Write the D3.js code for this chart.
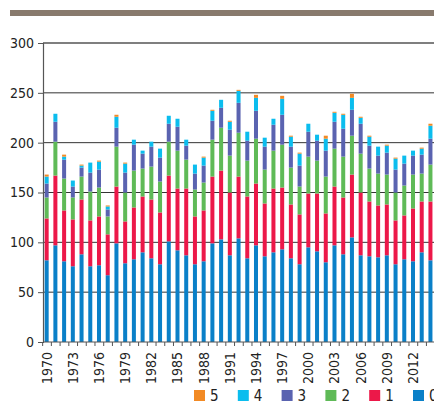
<!DOCTYPE html>
<html>
<head>
    <script src="https://d3js.org/d3.v7.min.js"></script>
    <style>
        body { margin: 0; background: #fff; }
        text { font-family: "Liberation Sans Narrow", "DejaVu Sans Condensed", sans-serif; fill: #222; }
    </style>
</head>
<body>
    <div id="chart"></div>

    <script>
        const years = [1970, 1971, 1972, 1973, 1974, 1975, 1976, 1977, 1978, 1979,
            1980, 1981, 1982, 1983, 1984, 1985, 1986, 1987, 1988, 1989,
            1990, 1991, 1992, 1993, 1994, 1995, 1996, 1997, 1998, 1999,
            2000, 2001, 2002, 2003, 2004, 2005, 2006, 2007, 2008, 2009,
            2010, 2011, 2012, 2013, 2014];
        const tickYears = [1970, 1973, 1976, 1979, 1982, 1985, 1988, 1991, 1994, 1997, 2000, 2003, 2006, 2009, 2012];
        const yTicks = [0, 50, 100, 150, 200, 250, 300];
        const keys = ["0", "1", "2", "3", "4", "5"];
        const legendOrder = ["5", "4", "3", "2", "1", "0"];

        const s0 = [82, 97, 81, 76, 88, 76, 77, 67, 99, 79, 83, 90, 84, 78, 101, 92, 87, 78, 81, 99,
            103, 87, 104, 84, 97, 86, 90, 93, 84, 78, 95, 91, 80, 97, 88, 105, 87, 86, 85, 87, 78, 83, 81, 90, 82];
        const s1 = [42, 70, 51, 47, 55, 46, 49, 41, 57, 42, 52, 56, 59, 52, 66, 62, 67, 48, 51, 67,
            69, 63, 62, 62, 62, 53, 64, 62, 54, 50, 54, 58, 49, 59, 57, 63, 63, 55, 52, 51, 44, 44, 53, 51, 59];
        const s2 = [21, 34, 32, 22, 23, 29, 29, 18, 40, 29, 37, 28, 33, 31, 34, 38, 29, 27, 28, 37,
            43, 37, 44, 36, 45, 34, 38, 43, 37, 28, 37, 33, 37, 38, 41, 39, 39, 33, 32, 30, 28, 30, 34, 28, 37];
        const s3 = [14, 20, 19, 11, 9, 19, 18, 7, 19, 20, 26, 15, 20, 24, 18, 24, 14, 16, 17, 19,
            20, 26, 30, 20, 28, 23, 26, 30, 21, 21, 25, 20, 26, 27, 28, 26, 30, 23, 18, 22, 23, 22, 19, 19, 26];
        const s4 = [7, 8, 3, 6, 2, 10, 8, 3, 11, 9, 5, 3, 5, 9, 8, 8, 6, 9, 8, 10,
            8, 8, 12, 9, 13, 9, 6, 16, 10, 12, 8, 6, 12, 9, 14, 12, 6, 9, 9, 7, 11, 8, 5, 6, 13];
        const s5 = [2, 0, 2, 0, 1, 0, 1, 1, 2, 1, 0, 0, 0, 0, 0, 0, 0, 0, 1, 1,
            0, 1, 1, 0, 3, 0, 0, 3, 1, 1, 0, 0, 3, 1, 1, 4, 1, 1, 0, 1, 1, 0, 0, 1, 2];

        const colors = {
            "0": "#0a80c8",
            "1": "#ec1849",
            "2": "#5fba57",
            "3": "#5a63b0",
            "4": "#0bbdee",
            "5": "#f28a24"
        };

        const width = 434;
        const height = 420;

        const table = years.map((yr, i) => ({
            year: yr, "0": s0[i], "1": s1[i], "2": s2[i], "3": s3[i], "4": s4[i], "5": s5[i]
        }));

        const svg = d3.select("#chart").append("svg")
            .attr("width", width)
            .attr("height", height);

        // top rule
        svg.append("rect")
            .attr("x", 10).attr("y", 10)
            .attr("width", width - 10).attr("height", 6)
            .attr("fill", "#887a6d");

        const x = d3.scaleBand()
            .domain(years)
            .range([42.3, 434.8])
            .paddingInner(0.54)
            .paddingOuter(0.27);

        const y = d3.scaleLinear()
            .domain([0, 300])
            .range([342, 43]);

        // gridlines
        svg.append("g")
            .selectAll("line")
            .data(yTicks.filter(d => d > 0))
            .enter().append("line")
            .attr("x1", 43).attr("x2", width)
            .attr("y1", d => y(d)).attr("y2", d => y(d))
            .attr("stroke", d => d === 300 ? "#7f7f7f" : "#333")
            .attr("stroke-width", d => d === 300 ? 1.8 : 1);

        // bars
        const series = d3.stack().keys(keys)(table);

        svg.append("g")
            .selectAll("g")
            .data(series)
            .enter().append("g")
            .attr("fill", d => colors[d.key])
            .selectAll("rect")
            .data(d => d)
            .enter().append("rect")
            .attr("x", d => x(d.data.year))
            .attr("y", d => y(d[1]))
            .attr("width", x.bandwidth())
            .attr("height", d => Math.max(0, y(d[0]) - y(d[1])));

        // y axis
        const yAxis = svg.append("g")
            .attr("transform", "translate(43,0)")
            .call(d3.axisLeft(y).tickValues(yTicks).tickSize(5).tickPadding(4));
        yAxis.select(".domain").attr("stroke", "#555").attr("stroke-width", 1.2);
        yAxis.selectAll(".tick line").attr("stroke", "#555");
        yAxis.selectAll("text").style("font-size", "14px").attr("fill", "#222");

        // x axis: ticks on band edges
        svg.append("line")
            .attr("x1", 43).attr("x2", width)
            .attr("y1", y(0)).attr("y2", y(0))
            .attr("stroke", "#555");

        svg.append("g")
            .selectAll("line")
            .data(years)
            .enter().append("line")
            .attr("x1", d => x(d) - x.step() * 0.23)
            .attr("x2", d => x(d) - x.step() * 0.23)
            .attr("y1", y(0)).attr("y2", y(0) + 4)
            .attr("stroke", "#555");

        svg.append("g")
            .selectAll("text")
            .data(tickYears)
            .enter().append("text")
            .attr("transform", d => `translate(${x(d) + x.bandwidth() / 2 + 5},352) rotate(-90)`)
            .attr("text-anchor", "end")
            .style("font-size", "14px")
            .text(d => d);

        // legend
        const legend = svg.append("g")
            .selectAll("g")
            .data(legendOrder)
            .enter().append("g")
            .attr("transform", (d, i) => `translate(${194 + i * 43.8},390)`);

        legend.append("rect")
            .attr("width", 11).attr("height", 11)
            .attr("fill", d => colors[d]);

        legend.append("text")
            .attr("x", 16).attr("y", 10.5)
            .style("font-size", "15px")
            .text(d => d);
    </script>
</body>
</html>
